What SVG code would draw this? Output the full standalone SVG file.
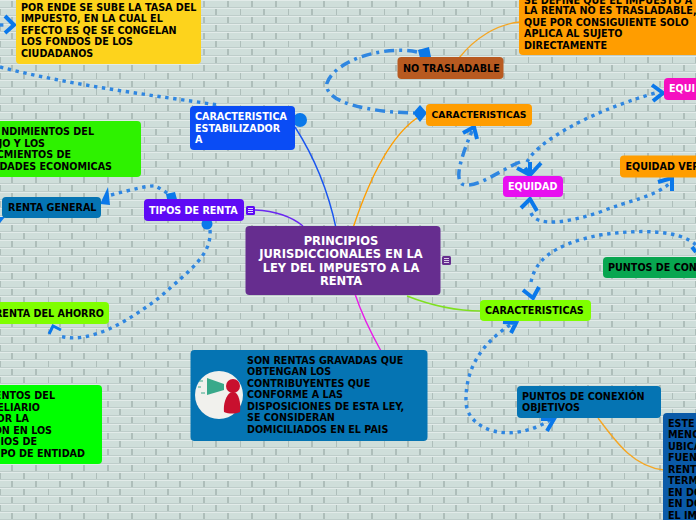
<svg xmlns="http://www.w3.org/2000/svg" width="696" height="520" viewBox="0 0 696 520">
<style>
text{font-family:"DejaVu Sans",Verdana,sans-serif;font-weight:700;font-size:9.6px;fill:#000}
.w{fill:#fff}
.c{text-anchor:middle}
.r{text-anchor:end}
.t{font-size:11.5px}
.s{font-size:8.4px}
.l{fill:none;stroke-width:1.4}
.d{fill:none;stroke:#2f86e0;stroke-width:3.4;stroke-dasharray:3.4 4.6}
.e{fill:none;stroke:#2f86e0;stroke-width:3.5;stroke-dasharray:10 5 3 5}
.h{fill:none;stroke:#0a78ea;stroke-width:4}
.f{fill:#0a78ea}
</style>
<defs>
<pattern id="b" width="48" height="16" patternUnits="userSpaceOnUse">
<rect width="48" height="16" fill="#cfdeda"/>
<path d="M0 .5H48M0 8.500H48" stroke="#e2ebe9" fill="none"/>
<path d="M0 7.500H48M0 15.500H48" stroke="#becdca" fill="none"/>
<path d="M12 1V7M36 1V7M0 9V15M24 9V15" stroke="#8d9e9b" fill="none"/>
</pattern>
</defs>
<rect width="696" height="520" fill="url(#b)"/>
<g id="connectors">
<path class="l" stroke="#1a55f0" d="M295 127C313 155 328 190 336 228"/>
<path class="l" stroke="#ff9d00" d="M353 228C364 195 385 140 417 118"/>
<path class="l" stroke="#f5a623" d="M459 58C475 38 497 24 520 22"/>
<path class="l" stroke="#6a28f0" d="M255 210C275 211 292 217 303 226"/>
<path class="l" stroke="#7fe020" d="M407 296C430 305 455 311 481 311"/>
<path class="l" stroke="#e81ce8" d="M355 294C362 315 371 333 381 351"/>
<path class="l" stroke="#f5a623" d="M598 418C618 445 635 467 664 470"/>
<path class="d" d="M0 67C70 85 150 95 218 105"/>
<path class="d" d="M111 195C130 190 150 185 155 186C160 188 165 192 172 196"/>
<path class="d" d="M210 230C212 255 190 270 160 297C130 320 90 345 60 336"/>
<path class="e" d="M417 52C385 45 335 60 327 83C323 103 370 112 414 113"/>
<path class="d" d="M527 162C535 145 580 115 655 93"/>
<path class="e" d="M520 162C500 170 475 190 462 184C455 178 460 160 472 131"/>
<path class="d" d="M531 213C537 228 570 222 600 212C630 200 655 197 670 183"/>
<path class="d" d="M531 282C535 262 550 245 600 235C640 229 680 230 696 245"/>
<path class="d" d="M510 325C480 345 465 370 466 403C468 430 510 445 550 420"/>
<path class="d" d="M0 25H5"/>
<path class="h" d="M5 16L14 25L5 33"/>
<polygon class="f" points="100,204 108,187 110,205"/>
<polygon class="f" points="166,194 175,192 178,203 168,204"/>
<path class="h" d="M49 334L53 326L61 330" style="stroke-width:3"/>
<circle class="f" cx="207" cy="224" r="5.500"/>
<circle class="f" cx="300" cy="120" r="7"/>
<polygon class="f" points="418,50 429,47 431,57 420,58"/>
<polygon class="f" points="420,105 427,113 420,122 413,113"/>
<path class="h" d="M463 133L474 127L477 139"/>
<path class="h" d="M652 85L663 93L653 101"/>
<path class="h" d="M517 168L530 175L541 163M530 162V175M525 168L530 175"/>
<path class="h" d="M521 208L530 199L537 211"/>
<path class="h" d="M658 182L672 178L672 191"/>
<path class="h" d="M523 290L533 298L539 287"/>
<path class="h" d="M503 322L516 323L511 333"/>
<path class="h" d="M541 419L554 419L547 431"/>
<path class="h" d="M692 247L696 252"/>
<polygon class="f" points="0,217 5,217 0,223"/>
</g>
<g id="n-central"><rect x="245.500" y="226" width="195" height="69" rx="4" fill="#662d8f"/>
<text class="w c t" x="341" y="245">PRINCIPIOS</text>
<text class="w c t" x="341" y="258">JURISDICCIONALES EN LA</text>
<text class="w c t" x="341" y="272">LEY DEL IMPUESTO A LA</text>
<text class="w c t" x="341" y="285">RENTA</text></g>
<g id="n-central-note"><rect x="442" y="256" width="9" height="9" rx="1.500" fill="#662d8f"/><path d="M444 258.500H449M444 260.500H449M444 262.500H449" stroke="#d9c9e6"/></g>
<g id="n-caracteristica-estab"><rect x="190" y="106" width="105" height="44" rx="4" fill="#0a4cf5"/>
<text class="w" x="195" y="120">CARACTERISTICA</text><text class="w" x="195" y="132">ESTABILIZADOR</text><text class="w" x="195" y="143">A</text></g>
<g id="n-tipos"><rect x="144" y="199" width="100" height="22" rx="4" fill="#5e0af5"/><text class="w" x="149" y="214">TIPOS DE RENTA</text></g>
<g id="n-tipos-note"><rect x="246" y="206" width="9" height="9" rx="1.500" fill="#5e0af5"/><path d="M248 208.500H253M248 210.500H253M248 212.500H253" stroke="#e0d4ff"/></g>
<g id="n-general"><rect x="2" y="197" width="99" height="21" rx="4" fill="#0574b3"/><text x="8" y="211">RENTA GENERAL</text></g>
<g id="n-ahorro"><rect x="-10" y="302" width="119" height="22" rx="4" fill="#7fff00"/><text class="r" x="104" y="317">RENTA DEL AHORRO</text></g>
<g id="n-yellow"><rect x="16" y="-10" width="185" height="74" rx="4" fill="#fdd31c"/>
<text x="21" y="11">POR ENDE SE SUBE LA TASA DEL</text><text x="21" y="22">IMPUESTO, EN LA CUAL EL</text><text x="21" y="34">EFECTO ES QE SE CONGELAN</text><text x="21" y="45">LOS FONDOS DE LOS</text><text x="21" y="57">CIUDADANOS</text></g>
<g id="n-green1"><rect x="-20" y="121" width="161" height="56" rx="4" fill="#2ef200"/>
<text class="r" x="94" y="135">NDIMIENTOS DEL</text><text class="r" x="45" y="147">JO Y LOS</text><text class="r" x="71" y="158">CMIENTOS DE</text><text class="r" x="112" y="170">DADES ECONOMICAS</text></g>
<g id="n-green2"><rect x="-40" y="385" width="142" height="79" rx="4" fill="#00ff00"/>
<text class="r" x="55" y="399">ENTOS DEL</text><text class="r" x="40" y="411">ELIARIO</text><text class="r" x="29" y="422">OR LA</text><text class="r" x="52" y="434">ON EN LOS</text><text class="r" x="37" y="445">IOS DE</text><text class="r" x="85" y="457">PO DE ENTIDAD</text></g>
<g id="n-gravadas"><rect x="190.500" y="350" width="237" height="91" rx="4" fill="#0574b3"/>
<circle cx="219" cy="395" r="24" fill="#f1f1ed"/>
<path d="M199 381H203M198 387H201M201 393H205" stroke="#39a98a" fill="none"/>
<polygon points="207,378 207,395 224,390 224,384" fill="#39a98a"/>
<circle cx="233" cy="386" r="7" fill="#c8102e"/>
<path d="M224 412C223 403 227 392 233 392C239 392 241 403 240 412C235 414 229 414 224 412Z" fill="#c8102e"/>
<text x="247" y="364">SON RENTAS GRAVADAS QUE</text><text x="247" y="375">OBTENGAN LOS</text><text x="247" y="387">CONTRIBUYENTES QUE</text><text x="247" y="398">CONFORME A LAS</text><text x="247" y="410">DISPOSICIONES DE ESTA LEY,</text><text x="247" y="421">SE CONSIDERAN</text><text x="247" y="433">DOMICILIADOS EN EL PAIS</text></g>
<g id="n-notras"><rect x="397.500" y="57" width="106" height="22" rx="4" fill="#b85a20"/><text x="403" y="72">NO TRASLADABLE</text></g>
<g id="n-def"><rect x="519" y="-10" width="190" height="65" rx="4" fill="#ff9d00"/>
<text x="524" y="4">SE DEFINE QUE EL IMPUESTO A</text><text x="524" y="14">LA RENTA NO ES TRASLADABLE,</text><text x="524" y="26">QUE POR CONSIGUIENTE SOLO</text><text x="524" y="37">APLICA AL SUJETO</text><text x="524" y="49">DIRECTAMENTE</text></g>
<g id="n-caract-o"><rect x="426" y="104" width="106" height="22" rx="4" fill="#ff9d00"/><text class="s" x="431.500" y="118" textLength="95" lengthAdjust="spacingAndGlyphs">CARACTERISTICAS</text></g>
<g id="n-equidad"><rect x="503" y="176" width="60" height="21" rx="4" fill="#e80ff0"/><text class="w" x="508" y="190">EQUIDAD</text></g>
<g id="n-equih"><rect x="664" y="78" width="60" height="22" rx="4" fill="#f50fc0"/><text class="w" x="669" y="92">EQUI</text></g>
<g id="n-equiv"><rect x="620" y="155.500" width="110" height="22" rx="4" fill="#ff9d00"/><text x="625.500" y="170">EQUIDAD VER</text></g>
<g id="n-puntos"><rect x="603" y="257" width="130" height="21" rx="4" fill="#08a650"/><text x="608" y="271">PUNTOS DE CON</text></g>
<g id="n-caract-g"><rect x="480" y="300" width="111" height="21" rx="4" fill="#7fff00"/><text x="485" y="314">CARACTERISTICAS</text></g>
<g id="n-objetivos"><rect x="517" y="386" width="144" height="32" rx="4" fill="#0574b3"/><text x="522" y="400">PUNTOS DE CONEXIÓN</text><text x="522" y="411">OBJETIVOS</text></g>
<g id="n-este"><rect x="663" y="413" width="80" height="120" rx="4" fill="#0a5aa8"/>
<text x="668" y="427">ESTE</text><text x="668" y="438">MENC</text><text x="668" y="450">UBICA</text><text x="668" y="461">FUEN</text><text x="668" y="473">RENT</text><text x="668" y="484">TERM</text><text x="668" y="496">EN DO</text><text x="668" y="507">EN DO</text><text x="668" y="519">EL IM</text></g>
</svg>
